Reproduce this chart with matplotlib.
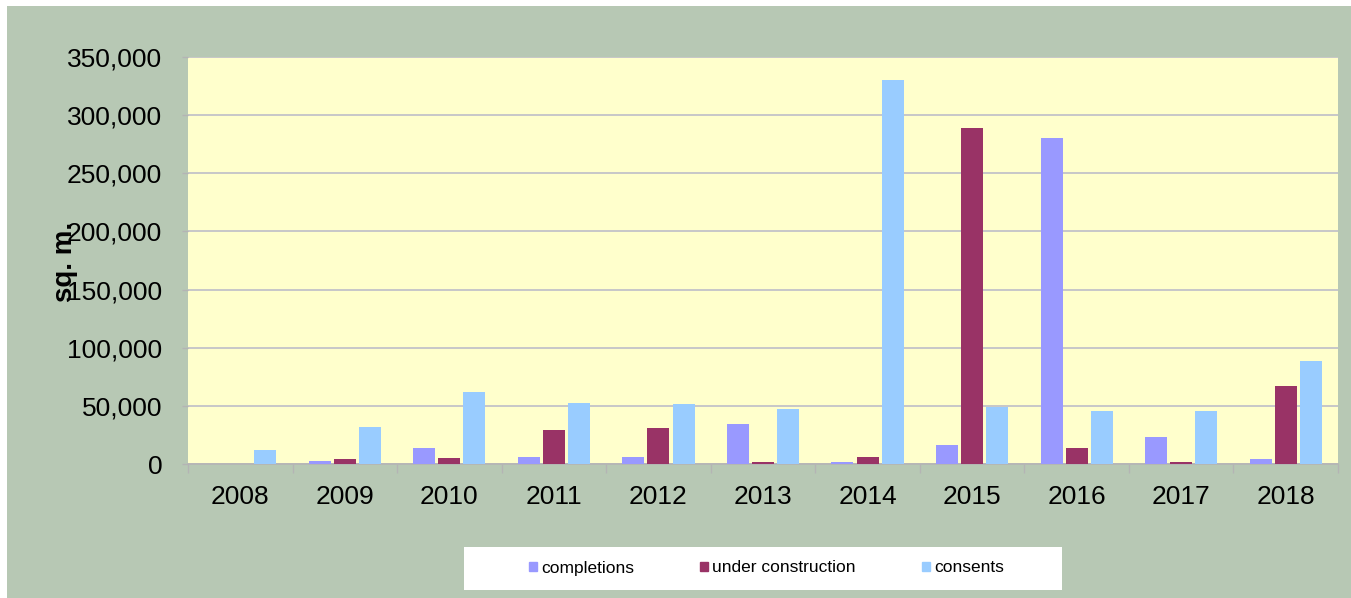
import numpy as np
import matplotlib.pyplot as plt
from matplotlib.patches import Rectangle, Patch

# Datos (m²)
years = ['2008', '2009', '2010', '2011', '2012', '2013', '2014', '2015', '2016', '2017', '2018']
completions = [0, 2600, 13800, 6000, 6000, 34500, 1700, 16500, 280500, 23200, 4300]
under_construction = [0, 4300, 5000, 29500, 31000, 1700, 6000, 289000, 13800, 1700, 67000]
consents = [12000, 32000, 62000, 52500, 51500, 47500, 330000, 49300, 45600, 45600, 88600]

plt.rcParams['font.family'] = ['Liberation Sans', 'DejaVu Sans']

W, H = 1351, 598
fig = plt.figure(figsize=(W / 100, H / 100), dpi=100, facecolor='white')

# fondo verde (borde blanco arriba y a la izquierda)
fig.patches.append(Rectangle((7 / W, 0), (W - 7) / W, (H - 6) / H,
                             transform=fig.transFigure, facecolor='#B7C8B4',
                             edgecolor='none', zorder=-10))

ax = fig.add_axes([188 / W, 1 - 464 / H, 1150 / W, 407 / H])
ax.set_facecolor('#FFFFCC')

x = np.arange(len(years))
w = 0.21
step = 0.24
ax.bar(x - step, completions, w, color='#9999FF', zorder=3)
ax.bar(x, under_construction, w, color='#993366', zorder=3)
ax.bar(x + step, consents, w, color='#99CCFF', zorder=3)

ax.set_xlim(-0.5, len(years) - 0.5)
ax.set_ylim(0, 350000)
ax.set_yticks(np.arange(0, 350001, 50000))
ax.yaxis.set_major_formatter(plt.FuncFormatter(lambda v, p: f'{int(v):,}'))
ax.grid(axis='y', color='#BEBEC8', linewidth=1.2, zorder=1)

ax.set_xticks(x)
ax.set_xticklabels(years)
ax.set_xticks(np.arange(-0.5, len(years)), minor=True)
ax.tick_params(axis='x', which='major', length=0, pad=15, labelsize=19)
ax.tick_params(axis='x', which='minor', length=6.5, width=1, color='#B4B4B4', direction='out')
ax.tick_params(axis='y', length=4.5, width=1, color='#B4B4B4', pad=14, labelsize=19)

for s in ['top', 'right', 'left']:
    ax.spines[s].set_visible(False)
ax.spines['bottom'].set_color('#B4B4B4')
ax.spines['bottom'].set_linewidth(1.2)

fig.text(65 / W, 1 - 262 / H, 'sq. m.', rotation=90, fontsize=20, fontweight='bold',
         ha='center', va='center')

# leyenda en caja blanca
fig.patches.append(Rectangle((464 / W, 1 - 590 / H), 598 / W, 43 / H,
                             transform=fig.transFigure, facecolor='white',
                             edgecolor='none', zorder=-5))
handles = [Patch(color='#9999FF', label='completions'),
           Patch(color='#993366', label='under construction'),
           Patch(color='#99CCFF', label='consents')]
fig.legend(handles=handles, loc='center left', bbox_to_anchor=(529 / W, 1 - 568 / H),
           ncol=3, frameon=False, fontsize=12.5, handlelength=0.45, handleheight=0.45,
           handletextpad=0.25, columnspacing=3.8, borderpad=0, borderaxespad=0)

fig.savefig('out.png', dpi=100, facecolor='white')
